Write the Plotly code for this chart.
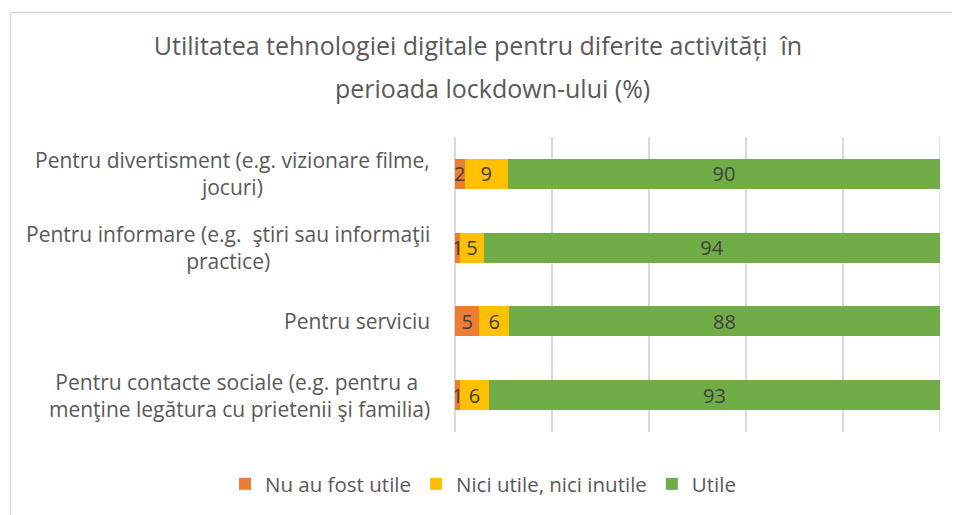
import plotly.graph_objects as go

categories = [
    "Pentru divertisment (e.g. vizionare filme,<br>jocuri)",
    "Pentru informare (e.g.  ştiri sau informaţii<br>practice)",
    "Pentru serviciu",
    "Pentru contacte sociale (e.g. pentru a <br>menţine legătura cu prietenii şi familia)",
]
series_names = ["Nu au fost utile", "Nici utile, nici inutile", "Utile"]
nu_au_fost_utile = [2, 1, 5, 1]
nici_utile = [9, 5, 6, 6]
utile = [90, 94, 88, 93]
colors = ["#ED7D31", "#FFC000", "#70AD47"]
title_line1 = "Utilitatea tehnologiei digitale pentru diferite activități  în"
title_line2 = "perioada lockdown-ului (%)"

FONT = "Open Sans"
TXT = "#595959"

# the page body adds an 8px margin, so the figure is 8px smaller than the window
W, H = 952, 507
L, R, T, B = 447, 20, 129, 83
PW = W - L - R  # 485
PH = H - T - B  # 295

fig = go.Figure()
for name, vals, col in zip(series_names, [nu_au_fost_utile, nici_utile, utile], colors):
    fig.add_trace(go.Bar(
        y=categories, x=vals, name=name, orientation="h",
        marker=dict(color=col, line=dict(width=0)),
        text=[str(v) for v in vals], textposition="inside", textangle=0,
        insidetextanchor="middle", constraintext="none",
        textfont=dict(family=FONT, size=20, color="#404040"),
    ))

fig.update_layout(
    width=W, height=H,
    barmode="stack", barnorm="percent", bargap=0.59,
    paper_bgcolor="white", plot_bgcolor="white",
    margin=dict(l=L, r=R, t=T, b=B, autoexpand=False),
    font=dict(family=FONT, color=TXT),
    title=dict(text=title_line1, x=470 / W, xanchor="center", y=1 - 38 / H,
               yanchor="middle", font=dict(family=FONT, size=25, color=TXT)),
    showlegend=True,
    legend=dict(orientation="h", x=(217 - L) / PW, xanchor="left",
                y=(424 - 476) / PH, yanchor="middle",
                font=dict(family=FONT, size=20.5, color=TXT),
                itemwidth=30, traceorder="normal"),
    xaxis=dict(range=[0, 100.001], tickvals=[0, 20, 40, 60, 80, 100], showgrid=True,
               gridcolor="#D9D9D9", gridwidth=1.5, zeroline=True, zerolinecolor="#D9D9D9",
               zerolinewidth=1.5, showticklabels=False, showline=False, fixedrange=True),
    yaxis=dict(categoryorder="array", categoryarray=categories[::-1],
               showticklabels=False, showgrid=False, zeroline=False, showline=False),
)

annotations = [dict(text=title_line2, xref="paper", yref="paper", x=(484 - L) / PW,
                    y=(424 - 80) / PH, xanchor="center", yanchor="middle",
                    showarrow=False, font=dict(family=FONT, size=25, color=TXT))]
for c in categories:
    annotations.append(dict(text=c, xref="paper", yref="y", x=(424 - L) / PW, y=c,
                            xanchor="right", yanchor="middle", align="center",
                            showarrow=False, font=dict(family=FONT, size=21, color=TXT)))
fig.update_layout(annotations=annotations)

# right-most gridline (100%) which plotly drops at the plot edge
fig.add_shape(type="line", xref="x", yref="paper", x0=100, x1=100, y0=0, y1=1,
              line=dict(color="#D9D9D9", width=1.5), layer="below")

# chart-area border (left and top edges visible in the reference)
bx = (2.5 - L) / PW
by = 1 + (T - 4.5) / PH
fig.add_shape(type="line", xref="paper", yref="paper", x0=bx, x1=1.2, y0=by, y1=by,
              line=dict(color="#D9D9D9", width=1.5))
fig.add_shape(type="line", xref="paper", yref="paper", x0=bx, x1=bx, y0=by, y1=-0.4,
              line=dict(color="#D9D9D9", width=1.5))

fig.write_html("out.html")
